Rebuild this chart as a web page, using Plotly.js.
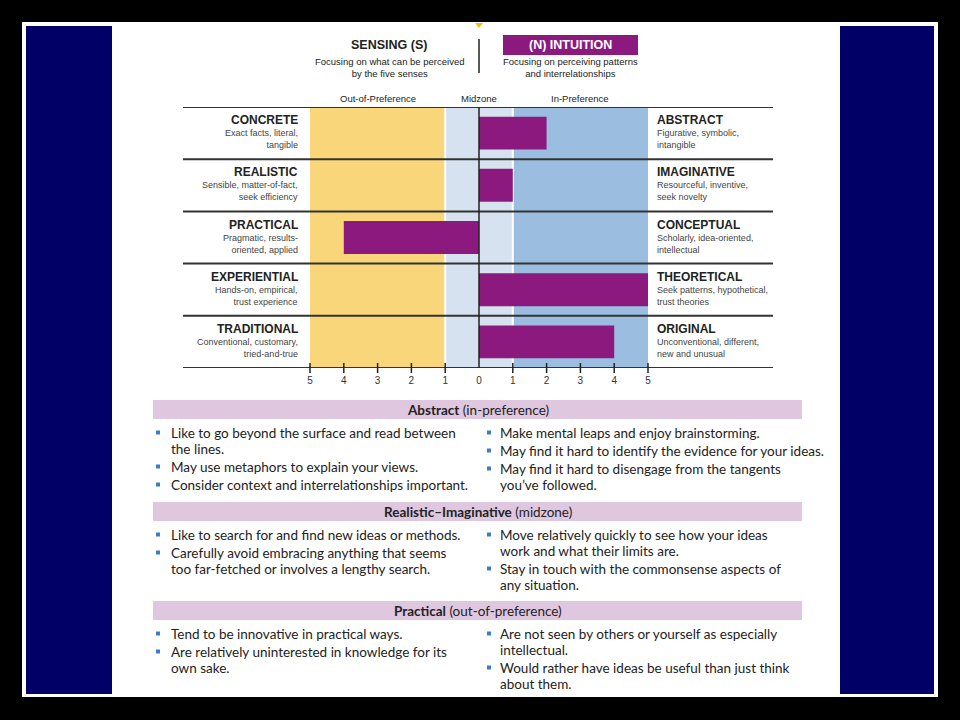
<!DOCTYPE html>
<html><head><meta charset="utf-8">
<script src="https://cdn.plot.ly/plotly-3.0.1.min.js"></script>
<style>html,body{margin:0;padding:0;background:#000;}#chart{width:960px;height:720px;}</style>
</head><body><div id="chart"></div>
<script>
// ---------- data ----------
const leftPoles = ['CONCRETE', 'REALISTIC', 'PRACTICAL', 'EXPERIENTIAL', 'TRADITIONAL'];
const leftDescs = [
  ['Exact facts, literal,', 'tangible'],
  ['Sensible, matter-of-fact,', 'seek efficiency'],
  ['Pragmatic, results-', 'oriented, applied'],
  ['Hands-on, empirical,', 'trust experience'],
  ['Conventional, customary,', 'tried-and-true']
];
const rightPoles = ['ABSTRACT', 'IMAGINATIVE', 'CONCEPTUAL', 'THEORETICAL', 'ORIGINAL'];
const rightDescs = [
  ['Figurative, symbolic,', 'intangible'],
  ['Resourceful, inventive,', 'seek novelty'],
  ['Scholarly, idea-oriented,', 'intellectual'],
  ['Seek patterns, hypothetical,', 'trust theories'],
  ['Unconventional, different,', 'new and unusual']
];
const scores = [2, 1, -4, 5, 4];
const tickValues = [-5, -4, -3, -2, -1, 0, 1, 2, 3, 4, 5];
const tickLabels = ['5', '4', '3', '2', '1', '0', '1', '2', '3', '4', '5'];
const zoneNames = ['Out-of-Preference', 'Midzone', 'In-Preference'];
const zoneStarts = [-5, -1, 1];
const zoneEnds = [-1, 1, 5];
const poleNames = ['SENSING (S)', '(N) INTUITION'];
const poleDescs = [
  ['Focusing on what can be perceived', 'by the five senses'],
  ['Focusing on perceiving patterns', 'and interrelationships']
];
const sectionTitles = ['Abstract', 'Realistic\u2013Imaginative', 'Practical'];
const sectionZones = ['(in-preference)', '(midzone)', '(out-of-preference)'];
const sectionLeft = [
  [['Like to go beyond the surface and read between', 'the lines.'],
   ['May use metaphors to explain your views.'],
   ['Consider context and interrelationships important.']],
  [['Like to search for and find new ideas or methods.'],
   ['Carefully avoid embracing anything that seems', 'too far-fetched or involves a lengthy search.']],
  [['Tend to be innovative in practical ways.'],
   ['Are relatively uninterested in knowledge for its', 'own sake.']]
];
const sectionRight = [
  [['Make mental leaps and enjoy brainstorming.'],
   ['May find it hard to identify the evidence for your ideas.'],
   ['May find it hard to disengage from the tangents', 'you\u2019ve followed.']],
  [['Move relatively quickly to see how your ideas', 'work and what their limits are.'],
   ['Stay in touch with the commonsense aspects of', 'any situation.']],
  [['Are not seen by others or yourself as especially', 'intellectual.'],
   ['Would rather have ideas be useful than just think', 'about them.']]
];

// ---------- styling ----------
const W = 960, H = 720;
const fx = p => p / W;
const fy = p => 1 - p / H;
const PURPLE = '#8C1A7E';
const zoneColors = ['#F9D67A', '#D7E2F0', '#9BBEE0'];
const SANS = 'Liberation Sans, Arial, sans-serif';
const BODY = 'Lato, Open Sans, sans-serif';
const ZERO_PX = 479, UNIT_PX = 33.8;
const AX_L = 183, AX_R = 773, AX_T = 107, AX_B = 368;

const shapes = [];
const ann = [];
function rect(x0, y0, x1, y1, color, layer) {
  shapes.push({type: 'rect', xref: 'paper', yref: 'paper', x0: fx(x0), x1: fx(x1), y0: fy(y1), y1: fy(y0),
    fillcolor: color, line: {width: 0}, layer: layer || 'below'});
}
function text(x, y, t, opts) {
  ann.push(Object.assign({xref: 'paper', yref: 'paper', x: fx(x), y: fy(y), text: t, showarrow: false,
    xanchor: 'left', yanchor: 'middle', font: {family: BODY, size: 13.5, color: '#222'}}, opts || {}));
}

// page frame
rect(22, 22, 938, 697, '#FFFFFF');
rect(26, 26, 112, 694, '#000066');
rect(840, 26, 934, 694, '#000066');

// zones
zoneStarts.forEach((s, i) => {
  shapes.push({type: 'rect', xref: 'x', yref: 'paper', x0: s, x1: zoneEnds[i], y0: fy(AX_B), y1: fy(AX_T),
    fillcolor: zoneColors[i], line: {width: 0}, layer: 'below'});
  ann.push({xref: 'x', yref: 'paper', x: (s + zoneEnds[i]) / 2, y: fy(99), text: zoneNames[i], showarrow: false,
    xanchor: 'center', yanchor: 'middle', font: {family: SANS, size: 9.5, color: '#222'}});
});
[-1, 1].forEach(v => shapes.push({type: 'line', xref: 'x', yref: 'paper', x0: v, x1: v, y0: fy(AX_B), y1: fy(AX_T),
  line: {color: '#FFFFFF', width: 2}, layer: 'below'}));

// row separators
for (let i = 0; i <= leftPoles.length; i++) {
  shapes.push({type: 'line', xref: 'paper', yref: 'y', x0: fx(AX_L), x1: fx(AX_R), y0: i - 0.5, y1: i - 0.5,
    line: {color: '#333333', width: 2}, layer: 'above'});
}
// zero line
shapes.push({type: 'line', xref: 'x', yref: 'paper', x0: 0, x1: 0, y0: fy(AX_B), y1: fy(AX_T),
  line: {color: '#222222', width: 1.5}, layer: 'above'});
// ticks
tickValues.filter(v => v !== 0).forEach(v => shapes.push({type: 'line', xref: 'x', yref: 'paper', x0: v, x1: v,
  y0: fy(373), y1: fy(363), line: {color: '#222222', width: 1.5}, layer: 'above'}));

// row labels
leftPoles.forEach((p, i) => {
  ann.push({xref: 'paper', yref: 'y', x: fx(300), y: p, yshift: 13, text: '<b>' + p + '</b>', showarrow: false,
    xanchor: 'right', yanchor: 'middle', align: 'right', font: {family: SANS, size: 12, color: '#222'}});
  ann.push({xref: 'paper', yref: 'y', x: fx(300), y: p, yshift: -6, text: leftDescs[i].join('<br>'), showarrow: false,
    xanchor: 'right', yanchor: 'middle', align: 'right', font: {family: SANS, size: 9, color: '#444'}});
  ann.push({xref: 'paper', yref: 'y', x: fx(655), y: p, yshift: 13, text: '<b>' + rightPoles[i] + '</b>', showarrow: false,
    xanchor: 'left', yanchor: 'middle', align: 'left', font: {family: SANS, size: 12, color: '#222'}});
  ann.push({xref: 'paper', yref: 'y', x: fx(655), y: p, yshift: -6, text: rightDescs[i].join('<br>'), showarrow: false,
    xanchor: 'left', yanchor: 'middle', align: 'left', font: {family: SANS, size: 9, color: '#444'}});
});

// header
shapes.push({type: 'path', xref: 'paper', yref: 'paper',
  path: `M ${fx(475)} ${fy(23)} L ${fx(483)} ${fy(23)} L ${fx(479)} ${fy(28)} Z`,
  fillcolor: '#F2C200', line: {width: 0}});
shapes.push({type: 'line', xref: 'paper', yref: 'paper', x0: fx(479), x1: fx(479), y0: fy(39), y1: fy(73),
  line: {color: '#222', width: 1.5}});
rect(503, 35, 638, 55, PURPLE, 'above');
const poleX = [389, 570];
poleNames.forEach((n, i) => {
  text(poleX[i], 45, '<b>' + n + '</b>', {xanchor: 'center', font: {family: SANS, size: 12.5, color: i ? '#FFF' : '#222'}});
  text(poleX[i], 67, poleDescs[i].join('<br>'), {xanchor: 'center', align: 'center', font: {family: SANS, size: 9.5, color: '#222'}});
});

// bottom sections
const sectionTop = [400, 502, 601];
const FIRST = 32.5, LINE_STEP = 16, ITEM_GAP = 2;
function column(items, top, xb, xt) {
  let y = top + FIRST;
  items.forEach(item => {
    rect(xb, y - 2, xb + 4, y + 2, '#3C7DC4', 'above');
    item.forEach(line => { text(xt, y, line); y += LINE_STEP; });
    y += ITEM_GAP;
  });
}
sectionTitles.forEach((t, i) => {
  const top = sectionTop[i];
  rect(153, top, 802, top + 19, '#DEC7DF');
  text(478, top + 10, '<b>' + t + '</b> ' + sectionZones[i], {xanchor: 'center'});
  column(sectionLeft[i], top, 156, 169);
  column(sectionRight[i], top, 487, 498);
});

const data = [{
  type: 'bar', orientation: 'h', x: scores, y: leftPoles, width: 0.63,
  marker: {color: PURPLE, line: {width: 0}}, hoverinfo: 'skip'
}];

const layout = {
  width: W, height: H, margin: {l: 0, r: 0, t: 0, b: 0, pad: 0},
  paper_bgcolor: '#000000', plot_bgcolor: 'rgba(0,0,0,0)', showlegend: false,
  xaxis: {domain: [fx(AX_L), fx(AX_R)], range: [(AX_L - ZERO_PX) / UNIT_PX, (AX_R - ZERO_PX) / UNIT_PX],
    tickvals: tickValues, ticktext: tickLabels, ticks: '', showgrid: false, zeroline: false, showline: false,
    ticklabelstandoff: 5, tickfont: {family: SANS, size: 10, color: '#333'}, fixedrange: true},
  yaxis: {domain: [fy(AX_B), fy(AX_T)], type: 'category', categoryarray: leftPoles, range: [4.5, -0.5],
    showticklabels: false, showgrid: false, zeroline: false, showline: false, fixedrange: true},
  shapes: shapes, annotations: ann
};
Plotly.newPlot('chart', data, layout, {displayModeBar: false, staticPlot: true});
</script></body></html>
